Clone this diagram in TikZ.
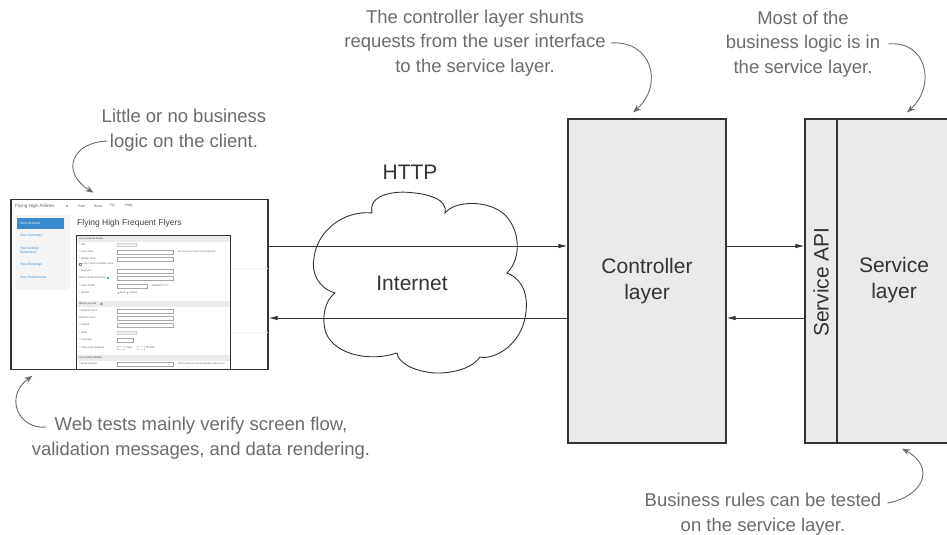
\documentclass[tikz,border=0pt]{standalone}
\usepackage{fontspec}
\setmainfont{Liberation Sans}
\usetikzlibrary{arrows.meta}
\definecolor{note}{HTML}{6B6B6B}
\definecolor{boxfill}{HTML}{E9EAEA}
\definecolor{edge}{HTML}{333333}
\definecolor{lnk}{HTML}{3B8BD0}
\definecolor{teal}{HTML}{1E8C8C}
\begin{document}
\begin{tikzpicture}[x=1pt,y=-1pt,
  notetext/.style={text=note,font=\fontsize{18.5}{24.5}\selectfont,align=center,inner sep=0},
  notearrow/.style={draw=note,line width=0.9pt,-{Stealth[length=8pt,width=6pt]}},
  layer/.style={draw=edge,fill=boxfill,line width=1.1pt,inner sep=0},
  flow/.style={draw=edge,line width=0.9pt,-{Latex[length=9pt,width=4.5pt]}},
  big/.style={font=\fontsize{21}{26}\selectfont,text=edge,align=center},
  tiny/.style={font=\fontsize{2.6}{3}\selectfont,text=black!60,inner sep=0,anchor=west},
  inbox/.style={draw=black!35,line width=0.3pt,fill=white},
  cloudline/.style={draw=edge,line width=0.9pt,line join=miter},
]
\useasboundingbox (0,0) rectangle (947,535);

% ---------------- screenshot ----------------
\node[draw=edge,line width=1.2pt,fill=white,minimum width=257pt,minimum height=170pt,inner sep=0] (shot) at (139.5,284.25) {};
\node[tiny,font=\fontsize{4.6}{5}\selectfont] (navbrand) at (15,206) {Flying High Airlines};
\fill[black!55] (67,206) circle (0.9);
\node[tiny,font=\fontsize{3.6}{4}\selectfont] (nav1) at (78,206) {Plan};
\node[tiny,font=\fontsize{3.6}{4}\selectfont] (nav2) at (94,206) {Book};
\node[tiny,font=\fontsize{3.6}{4}\selectfont] (nav3) at (110,206) {Fly};
\node[tiny,font=\fontsize{3.6}{4}\selectfont] (nav4) at (125,206) {Help};
\fill[black!4] (15,215) rectangle (70,290);
\fill[lnk] (17,218) rectangle (64,229);
\node[tiny,text=white,font=\fontsize{3.4}{4}\selectfont] (sb0) at (20,223.5) {Your Account};
\node[tiny,text=lnk,font=\fontsize{3.4}{4}\selectfont] (sb1) at (20,236) {Your Summary};
\node[tiny,text=lnk,font=\fontsize{3.4}{4.4}\selectfont,align=left] (sb2) at (20,250) {Your Activity\\Statement};
\node[tiny,text=lnk,font=\fontsize{3.4}{4}\selectfont] (sb3) at (20,265) {Your Bookings};
\node[tiny,text=lnk,font=\fontsize{3.4}{4}\selectfont] (sb4) at (20,277) {Your Preferences};
\node[tiny,text=black!75,font=\fontsize{8.5}{9}\selectfont] (head) at (77,223) {Flying High Frequent Flyers};
% form panel
\draw[edge,line width=1pt,fill=white] (76,235) rectangle (230,369.5);
\fill[black!8] (76.5,236) rectangle (229.5,242);
\fill[black!8] (76.5,301) rectangle (229.5,307);
\fill[black!8] (76.5,355) rectangle (229.5,361);
\node[tiny,text=black!75] (f0) at (79,239) {Your personal details};
\node[tiny,text=black!75] (f10) at (79,304) {Where you live};
\fill[teal] (101.5,304) circle (1.1);
\node[tiny,text=black!75] (f18) at (79,358) {Your contact details};
\foreach \lab/\yy in {{* Title}/245,{* First name}/252,{* Middle name}/259,{* Surname}/271,{Other names known by}/278,{* Date of birth}/286,{* Gender}/293,{* Address line 1}/311,{Address line 2}/318,{* Suburb}/325,{* State}/333,{* Postcode}/340,{* Time at this address}/348,{* Email address}/364}
  \node[tiny] at (79,\yy) {\lab};
\draw[black!50,line width=0.2pt] (79.3,263.2) rectangle (80.9,264.8);
\node[tiny] at (82,264) {I don't have a middle name};
\fill[teal] (108,278) circle (1.1);
\foreach \yy in {252,259,271,278,311,318,325,364}
  \draw[inbox] (117,\yy-1.7) rectangle (173,\yy+1.7);
\foreach \yy in {245,333}
  \draw[inbox,rounded corners=1pt,fill=black!6] (117,\yy-1.8) rectangle (137,\yy+1.8);
\draw[inbox] (117,284.3) rectangle (147,287.7);
\draw[inbox] (117,338.3) rectangle (133,341.7);
\draw[inbox,rounded corners=1pt] (117,346.2) rectangle (125,349.8);
\draw[inbox,rounded corners=1pt] (137,346.2) rectangle (145,349.8);
\node[tiny] at (126,348) {Years};
\node[tiny] at (146,348) {Months};
\draw[black!50,line width=0.2pt] (118.5,293) circle (0.8) (127.5,293) circle (0.8);
\node[tiny] at (120,293) {Male};
\node[tiny] at (129,293) {Female};
\node[tiny] at (178,252) {As shown on your ID documents};
\node[tiny] at (152,286) {DD/MM/YYYY};
\node[tiny] at (178,364) {We'll send you email updates about your};
\foreach \yy in {268,332}
  \draw[black!6,line width=0.3pt] (230.5,\yy) -- (267.5,\yy);

% ---------------- cloud ----------------
\draw[cloudline] (335,293) .. controls (318,288) and (311,272) .. (314,258)
  .. controls (317,230) and (345,210) .. (372,213)
  .. controls (368,194) and (395,191) .. (410,192.5)
  .. controls (428,194) and (448,199) .. (445,213)
  .. controls (455,200) and (490,200) .. (505,215)
  .. controls (520,230) and (522,258) .. (507,273)
  .. controls (525,280) and (530,300) .. (524,322)
  .. controls (518,345) and (495,360) .. (480,357)
  .. controls (470,372) and (440,375) .. (427,372)
  .. controls (412,370) and (398,362) .. (397,353)
  .. controls (370,362) and (335,355) .. (326,333)
  .. controls (321,318) and (325,300) .. (335,293) -- cycle;
\node[big] (nettext) at (412,283) {Internet};
\node[big] (http) at (410,172) {HTTP};

% ---------------- layers ----------------
\node[layer,minimum width=158pt,minimum height=324pt,big] (ctrl) at (647,281) {Controller\\layer};
\node[layer,minimum width=114pt,minimum height=324pt] (svc) at (894,281) {};
\node[big] (svctext) at (894,280) {Service\\layer};
\node[layer,minimum width=32pt,minimum height=324pt] (api) at (821,281) {};
\node[big,rotate=90] (apitext) at (821,282) {Service API};

% ---------------- flows ----------------
\draw[flow] (shot.east |- 0,246) -- (ctrl.west |- 0,246);
\draw[flow] (ctrl.west |- 0,318) -- (shot.east |- 0,318);
\draw[flow] (ctrl.east |- 0,246) -- (api.west |- 0,246);
\draw[flow] (api.west |- 0,318) -- (ctrl.east |- 0,318);

% ---------------- notes ----------------
\node[notetext] (n1) at (184,130) {Little or no business\\logic on the client.};
\node[notetext] (n2) at (475,43) {The controller layer shunts\\requests from the user interface\\to the service layer.};
\node[notetext] (n3) at (803,44) {Most of the\\business logic is in\\the service layer.};
\node[notetext] (n4) at (201,438) {Web tests mainly verify screen flow,\\validation messages, and data rendering.};
\node[notetext] (n5) at (763,514) {Business rules can be tested\\on the service layer.};

\draw[notearrow] ([shift={(6,11)}]n1.west) .. controls (72,142) and (60,172) .. ([xshift=-46pt,yshift=6pt]shot.north);
\draw[notearrow] ([xshift=5pt]n2.east) .. controls (652,40) and (664,85) .. ([xshift=-14pt,yshift=6pt]ctrl.north);
\draw[notearrow] ([xshift=8pt]n3.east) .. controls (926,40) and (937,85) .. ([xshift=13pt,yshift=6pt]svc.north);
\draw[notearrow] ([shift={(15,-11)}]n4.west) .. controls (18,430) and (4,396) .. ([xshift=22pt,yshift=-6pt]shot.south west);
\draw[notearrow] ([xshift=6pt,yshift=11pt]n5.east) .. controls (922,497) and (937,468) .. ([xshift=8pt,yshift=-5pt]svc.south);
\end{tikzpicture}
\end{document}
